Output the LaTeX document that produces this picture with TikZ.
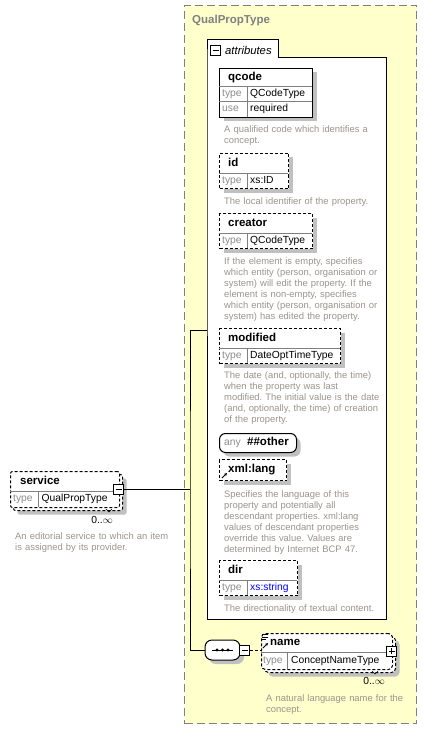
\documentclass[tikz,border=0pt]{standalone}
\usepackage{fontspec}
\setmainfont{Liberation Sans}
\usetikzlibrary{arrows.meta,positioning,shapes.misc,shadows}

\definecolor{qptyellow}{HTML}{FFFFCC}
\definecolor{shgray}{HTML}{C0C0C0}
\definecolor{desctext}{HTML}{9A948C}
\definecolor{lblgray}{HTML}{8C8C8C}
\definecolor{headgray}{HTML}{808080}
\frenchspacing

\begin{document}
\begin{tikzpicture}[
    x=1pt, y=-1pt,
    font=\fontsize{10.3}{12}\selectfont,
    boxshadow/.style={drop shadow={shadow xshift=4pt, shadow yshift=-4pt, opacity=1, fill=shgray}},
    box/.style={draw, fill=white, anchor=north west, inner sep=0pt, line width=1pt},
    elem/.style={box, boxshadow},
    dashbox/.style={box, dash pattern=on 3pt off 2pt},
    optelem/.style={dashbox, boxshadow},
    eltitle/.style={anchor=west, inner sep=0pt, text height=8.5pt, text depth=2.3pt, font=\fontsize{11.5}{13}\selectfont\bfseries},
    lbl/.style={anchor=west, inner sep=0pt, text height=7.5pt, text depth=2pt, text=lblgray},
    val/.style={anchor=west, inner sep=0pt, text height=7.5pt, text depth=2pt},
    desc/.style={anchor=north west, inner sep=0pt, align=left, text width=170pt, text=desctext, font=\fontsize{9.4}{11}\selectfont},
    row/.style={draw=headgray, line width=0.8pt},
    pm/.style={draw, fill=white, minimum size=10pt, inner sep=0pt, line width=0.8pt},
    minusbox/.style={pm, path picture={\draw[line width=0.8pt] ([xshift=2pt]path picture bounding box.west) -- ([xshift=-2pt]path picture bounding box.east);}},
    plusbox/.style={pm, path picture={\draw[line width=0.8pt] ([xshift=2pt]path picture bounding box.west) -- ([xshift=-2pt]path picture bounding box.east) ([yshift=-2pt]path picture bounding box.north) -- ([yshift=2pt]path picture bounding box.south);}},
    mult/.style={anchor=east, inner sep=0pt},
    line/.style={line width=1pt}
]
    \useasboundingbox (0,0) rectangle (426,730);

    % complex type QualPropType
    \node[box, fill=qptyellow, draw=headgray, dash pattern=on 8pt off 4pt, minimum width=232pt, minimum height=718pt] (qpt) at (184,5) {};
    \node[eltitle, text=headgray] (qpthead) at (192,20) {QualPropType};

    % attributes panel
    \node[fill=white, anchor=north west, inner sep=0pt, minimum width=179pt, minimum height=561pt] (attr) at (207,58) {};
    \node[fill=white, anchor=north west, inner sep=0pt, minimum width=71pt, minimum height=18pt] (attrtab) at (207,40) {};
    \draw[line] (attrtab.south west) |- (attrtab.north east) |- (attr.north east) |- (attr.south west) -- cycle;
    \node[minusbox] (attrmin) at (215.5,50) {};
    \node[anchor=west, inner sep=0pt, font=\fontsize{11.3}{13}\selectfont\itshape] (attrlbl) at (225,50) {attributes};

    % qcode
    \node[elem, minimum width=93pt, minimum height=49pt] (qcode) at (219,68) {};
    \node[eltitle] (qcodet) at (228,77) {qcode};
    \draw[row] (219,86) -- (312,86) (219,101) -- (312,101) (247,86) -- (247,117);
    \node[lbl] (qcodetl) at (222,93.5) {type};
    \node[val] (qcodetv) at (250,93.5) {QCodeType};
    \node[lbl] (qcodeul) at (222,109) {use};
    \node[val] (qcodeuv) at (250,109) {required};
    \node[desc] (qcoded) at (224,125.5) {A qualified code which identifies a\\concept.};

    % id
    \node[optelem, minimum width=69pt, minimum height=35pt] (id) at (219,153) {};
    \node[eltitle] (idt) at (228,163) {id};
    \draw[row] (219,173) -- (288,173) (247,173) -- (247,188);
    \node[lbl] (idtl) at (222,180.5) {type};
    \node[val] (idtv) at (250,180.5) {xs:ID};
    \node[desc] (idd) at (224,197.5) {The local identifier of the property.};

    % creator
    \node[optelem, minimum width=93pt, minimum height=35pt] (creator) at (219,213) {};
    \node[eltitle] (creatort) at (228,223) {creator};
    \draw[row] (219,233) -- (312,233) (247,233) -- (247,248);
    \node[lbl] (creatortl) at (222,240.5) {type};
    \node[val] (creatortv) at (250,240.5) {QCodeType};
    \node[desc] (creatord) at (224,257) {If the element is empty, specifies\\which entity (person, organisation or\\system) will edit the property. If the\\element is non-empty, specifies\\which entity (person, organisation or\\system) has edited the property.};

    % modified
    \node[optelem, minimum width=121pt, minimum height=35pt] (modified) at (219,328) {};
    \node[eltitle] (modifiedt) at (228,338) {modified};
    \draw[row] (219,348) -- (340,348) (247,348) -- (247,363);
    \node[lbl] (modifiedtl) at (222,355.5) {type};
    \node[val] (modifiedtv) at (250,355.5) {DateOptTimeType};
    \node[desc] (modifiedd) at (224,371.5) {The date (and, optionally, the time)\\when the property was last\\modified. The initial value is the date\\(and, optionally, the time) of creation\\of the property.};

    % any attribute
    \node[elem, rounded corners=6pt, minimum width=77pt, minimum height=19pt] (any) at (219,433) {};
    \node[lbl] (anyl) at (224,442.5) {any};
    \node[eltitle] (anyt) at (247,442.5) {\#\#other};

    % xml:lang
    \node[optelem, minimum width=67pt, minimum height=21pt] (xmllang) at (219,459) {};
    \node[eltitle] (xmllangt) at (228,469.5) {xml:lang};
    \draw[line width=0.8pt, -{Stealth[length=3pt, width=3pt]}] (222,478) -- (227,473);
    \node[desc] (xmllangd) at (224,490) {Specifies the language of this\\property and potentially all\\descendant properties. xml:lang\\values of descendant properties\\override this value. Values are\\determined by Internet BCP 47.};

    % dir
    \node[optelem, minimum width=78pt, minimum height=35pt] (dir) at (219,560) {};
    \node[eltitle] (dirt) at (228,570.5) {dir};
    \draw[row] (219,580) -- (297,580) (247,580) -- (247,595);
    \node[lbl] (dirtl) at (222,587.5) {type};
    \node[val, text=blue] (dirtv) at (250,587.5) {xs:string};
    \node[desc] (dird) at (224,604) {The directionality of textual content.};

    % service
    \node[dashbox, boxshadow, rounded corners=2pt, minimum width=109pt, minimum height=36pt] (svcback) at (13,474) {};
    \node[dashbox, rounded corners=2pt, minimum width=109pt, minimum height=36pt] (svc) at (10,471) {};
    \node[eltitle] (svct) at (20,481.5) {service};
    \draw[row] (10,491) -- (119,491) (38,491) -- (38,507);
    \node[lbl] (svctl) at (13,499) {type};
    \node[val] (svctv) at (41.5,499) {QualPropType};
    \node[minusbox] (svcmin) at (118.5,489) {};
    \draw[line width=0.6pt] (106,509) -- (109,512) -- (112,509);
    \node[mult] (svcmult) at (113,520) {0..\(\infty\)};
    \node[desc] (svcd) at (15,532.5) {An editorial service to which an item\\is assigned by its provider.};

    % sequence
    \node[box, anchor=center, boxshadow, rounded corners=7pt, minimum width=35pt, minimum height=20pt] (seq) at (222.5,650) {};
    \draw[line] (212,650) -- (233,650);
    \foreach \dx in {217,222.5,228} \fill (\dx,650) circle (1.6pt);
    \node[minusbox] (seqmin) at (244.5,650) {};

    % name
    \node[dashbox, boxshadow, rounded corners=4pt, minimum width=131pt, minimum height=36pt] (nameback) at (264,636) {};
    \node[dashbox, rounded corners=4pt, minimum width=131pt, minimum height=36pt] (name) at (261,633) {};
    \draw[line width=0.8pt] (262,634.5) -- (268,634.5) (262,637) -- (268,637) (262,639.5) -- (266,639.5);
    \draw[line width=0.8pt, -{Stealth[length=3pt, width=3pt]}] (263,648) -- (268,643);
    \node[eltitle] (namet) at (270,642.5) {name};
    \draw[row] (261,652.5) -- (392,652.5) (287,652.5) -- (287,669);
    \node[lbl] (nametl) at (263,661) {type};
    \node[val] (nametv) at (291,661) {ConceptNameType};
    \node[plusbox] (nameplus) at (391.5,651) {};
    \draw[line width=0.6pt] (372,671) -- (375,674) -- (378,671);
    \node[mult] (namemult) at (385,681) {0..\(\infty\)};
    \node[desc] (named) at (266,694) {A natural language name for the\\concept.};

    % connectors
    \coordinate (bus) at (190,489);
    \coordinate (bustop) at (190,330);
    \draw[line] (svcmin) -- (bus);
    \draw[line] (attr.west |- bustop) -- (bustop) -- (bus) |- (seq);
    \draw[line, dash pattern=on 3pt off 2pt] (seqmin.east) -- (seqmin.east -| name.west);
\end{tikzpicture}
\end{document}
